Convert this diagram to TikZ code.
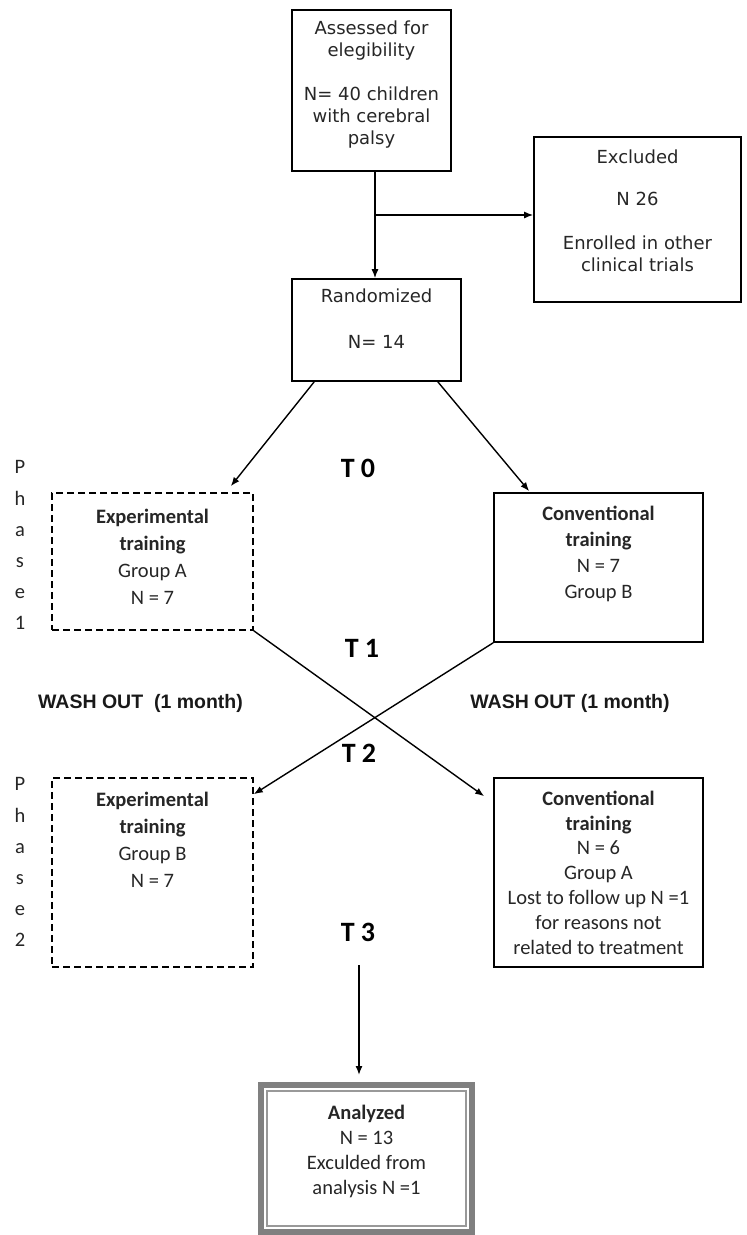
\documentclass[tikz,border=0pt]{standalone}
\usepackage{fontspec}
\setmainfont{Carlito}
\newfontfamily\boxfont{DejaVu Sans}
\newfontfamily\washfont{Liberation Sans}
\usetikzlibrary{positioning,arrows.meta}

\begin{document}
\begin{tikzpicture}[x=1pt,y=-1pt,
    >={Latex[length=9pt,width=7pt]},
    line width=1.4pt,
    box/.style={draw,line width=1.6pt,inner sep=0pt},
    dbox/.style={box,dash pattern=on 7pt off 4pt},
    txt/.style={align=center,inner sep=0pt,text=black!85},
    toptxt/.style={txt,font=\boxfont\fontsize{18}{22}\selectfont},
    grptxt/.style={txt,font=\fontsize{20.5}{27}\selectfont},
    tlabel/.style={inner sep=0pt,font=\fontsize{28}{30}\selectfont\bfseries},
    washtxt/.style={inner sep=0pt,text=black!90,font=\washfont\fontsize{19.5}{22}\selectfont\bfseries},
    phase/.style={align=center,inner sep=0pt,anchor=north,text=black!85,font=\fontsize{20.5}{31.2}\selectfont}]
            \useasboundingbox (0,0) rectangle (747,1235);

            % boxes
            \node[box,minimum width=159pt,minimum height=161pt] (assess) at (371.5,90.5) {};
            \node[box,minimum width=207pt,minimum height=165pt] (excl) at (637.5,219.5) {};
            \node[box,minimum width=169pt,minimum height=102pt] (rand) at (376.5,330) {};
            \node[dbox,minimum width=201pt,minimum height=137pt] (expA) at (152.5,561.5) {};
            \node[box,minimum width=209pt,minimum height=149pt] (convB) at (598.5,567.5) {};
            \node[dbox,minimum width=201pt,minimum height=189pt] (expB) at (152.5,872.5) {};
            \node[box,minimum width=209pt,minimum height=189pt] (convA) at (598.5,872.5) {};
            \node[draw=black!50,line width=6pt,inner sep=0pt,minimum width=211pt,minimum height=147pt] (anal) at (366.5,1158.5) {};
            \draw[black!40,line width=1.8pt] ([shift={(9pt,-9pt)}]anal.north west) rectangle ([shift={(-9pt,9pt)}]anal.south east);

            % box texts
            \node[toptxt,below=10.6pt of assess.north] (assesstxt) {Assessed for\\elegibility\\[22pt]N= 40 children\\with cerebral\\palsy};
            \node[toptxt,below=12.5pt of excl.north] (excltxt) {Excluded\\[20pt]N 26\\[22pt]Enrolled in other\\clinical trials};
            \node[toptxt,below=9.5pt of rand.north] (randtxt) {Randomized\\[24pt]N= 14};
            \node[grptxt,below=16pt of expA.north] (expAtxt) {\textbf{Experimental}\\\textbf{training}\\Group A\\N = 7};
            \node[grptxt,font=\fontsize{20.5}{26}\selectfont,below=13pt of convB.north] (convBtxt) {\textbf{Conventional}\\\textbf{training}\\N = 7\\Group B};
            \node[grptxt,below=14pt of expB.north] (expBtxt) {\textbf{Experimental}\\\textbf{training}\\Group B\\N = 7};
            \node[grptxt,font=\fontsize{20.5}{24.8}\selectfont,below=13pt of convA.north] (convAtxt) {\textbf{Conventional}\\\textbf{training}\\N = 6\\Group A\\Lost to follow up N =1\\for reasons not\\related to treatment};
            \node[grptxt,font=\fontsize{20.5}{25}\selectfont,below=22pt of anal.north] (analtxt) {\textbf{Analyzed}\\N = 13\\Exculded from\\analysis N =1};

            % side and time labels
            \node[phase] (phaseA) at (20,460) {P\\h\\a\\s\\e\\1};
            \node[phase] (phaseB) at (20,777) {P\\h\\a\\s\\e\\2};
            \node[tlabel] (t0) at (358,468) {T 0};
            \node[tlabel] (t1) at (362,648) {T 1};
            \node[tlabel] (t2) at (359,753) {T 2};
            \node[tlabel] (t3) at (358,932) {T 3};
            \node[washtxt] (washA) at (140.5,703) {WASH OUT\ \ (1 month)};
            \node[washtxt] (washB) at (570,703) {WASH OUT (1 month)};

            % connectors
            \coordinate (split) at (375,215);
            \coordinate (flow) at (359,965);
            \draw (assess.south -| split) -- (split);
            \draw[->] (split) -- (rand.north -| split);
            \draw[->] (split) -- (excl.west |- split);
            \draw[->] ([xshift=23pt]rand.south west) -- ([xshift=-23pt,yshift=6pt]expA.north east);
            \draw[->] ([xshift=-24pt]rand.south east) -- ([xshift=36pt,yshift=1pt]convB.north west);
            \draw[->] (expA.south east) -- ([xshift=-9pt,yshift=-19pt]convA.north west);
            \draw[->] (convB.south west) -- ([yshift=-17pt]expB.north east);
            \draw[->,shorten >=7pt] (flow) -- (anal.north -| flow);
        \end{tikzpicture}
\end{document}
